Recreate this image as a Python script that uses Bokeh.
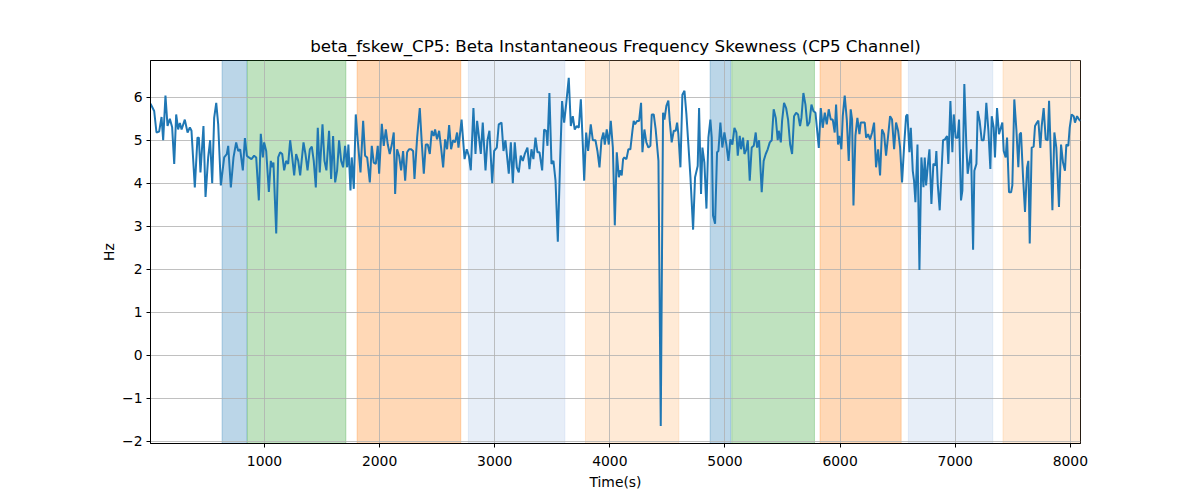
from bokeh.plotting import figure
from bokeh.models import BoxAnnotation, FixedTicker, Range1d
from bokeh.embed import file_html
from bokeh.resources import INLINE

title_text = "beta_fskew_CP5: Beta Instantaneous Frequency Skewness (CP5 Channel)"
x_label = "Time(s)"
y_label = "Hz"

time_s = [10, 42, 62, 85, 106, 120, 140, 158, 178, 198, 216, 233, 250, 265, 280, 308, 332, 352, 366, 395,
          418, 430, 444, 470, 488, 511, 528, 546, 563, 581, 598, 621, 650, 673, 685, 708, 731, 754, 772, 789,
          812, 830, 847, 864, 887, 910, 928, 951, 968, 986, 997, 1015, 1038, 1055, 1067, 1078, 1102, 1119, 1136, 1154,
          1171, 1188, 1206, 1223, 1241, 1258, 1275, 1293, 1310, 1339, 1356, 1374,
          1394, 1411, 1428, 1446, 1463, 1480, 1504, 1521, 1538, 1561, 1579, 1596, 1614, 1631, 1648, 1666, 1683, 1700,
          1718, 1729, 1747, 1758, 1776, 1793, 1810, 1834, 1857, 1874, 1892, 1915, 1932, 1949, 1967, 1984, 1996, 2019,
          2036, 2054, 2071, 2088, 2106, 2123, 2135, 2152, 2169, 2187, 2204, 2222, 2239, 2256, 2274, 2291, 2303, 2326,
          2349, 2366, 2384, 2401, 2418, 2436, 2453, 2470, 2482, 2499, 2517, 2534, 2552, 2569, 2586, 2604, 2621, 2638,
          2656, 2673, 2685, 2712, 2738,
          2757, 2775, 2792, 2815, 2833, 2847, 2862, 2879, 2896, 2920, 2937, 2954, 2978, 2995, 3018, 3035, 3059, 3076,
          3093, 3105, 3122, 3140, 3157, 3174, 3192, 3209, 3226, 3244, 3261, 3284, 3302, 3319, 3336, 3354, 3371, 3389,
          3412, 3429, 3447, 3458, 3475, 3493, 3510, 3528, 3548, 3568, 3585, 3603, 3620, 3643, 3661, 3678, 3695, 3713,
          3730, 3748, 3765, 3777, 3794, 3811, 3834, 3852, 3875, 3892, 3910, 3927, 3944, 3956, 3973, 3991, 4008, 4026,
          4043, 4060, 4078,
          4092, 4103, 4115, 4126, 4144, 4161, 4178, 4196, 4207, 4219, 4236, 4254, 4271, 4283, 4300, 4317, 4335, 4352,
          4364, 4381, 4398, 4422, 4442, 4462, 4474, 4491, 4508, 4520, 4537, 4555, 4572, 4584, 4595, 4613, 4630, 4648,
          4665, 4682, 4700, 4723, 4740, 4763, 4775, 4792, 4804, 4821, 4839, 4856, 4873, 4885, 4896, 4914, 4931, 4943,
          4960, 4977, 4995, 5012, 5030, 5047, 5064, 5082, 5099, 5111, 5128, 5140, 5157, 5169, 5186, 5198, 5215, 5232,
          5250, 5267, 5279, 5296, 5319, 5336, 5354, 5371, 5389, 5406, 5423, 5441, 5458,
          5467, 5485, 5496, 5513, 5531, 5548, 5566, 5583, 5600, 5618, 5635, 5652, 5664, 5681, 5699, 5716, 5733, 5751,
          5768, 5786, 5797, 5815, 5832, 5849, 5867, 5884, 5901, 5919, 5936, 5953, 5965, 5982, 5994, 6011, 6023, 6040,
          6058, 6075, 6092, 6104, 6116, 6133, 6150, 6168, 6179, 6197, 6214, 6226, 6243, 6260, 6278, 6295, 6312, 6330,
          6347, 6364, 6382, 6399, 6417, 6434, 6451, 6469, 6486, 6504, 6521, 6538, 6556, 6573, 6585, 6602, 6614, 6631,
          6642, 6654, 6672, 6689, 6706, 6724, 6735, 6747, 6764, 6776, 6793, 6810, 6828,
          6836, 6848, 6865, 6882, 6894, 6911, 6929, 6940, 6958, 6975, 6987, 7004, 7021, 7033, 7050, 7062, 7079, 7097,
          7108, 7126, 7137, 7155, 7166, 7184, 7195, 7212, 7230, 7247, 7259, 7270, 7288, 7305, 7317, 7334, 7345, 7363,
          7380, 7392, 7409, 7421, 7438, 7450, 7467, 7485, 7496, 7513, 7531, 7548, 7560, 7571, 7589, 7606, 7624, 7635,
          7647, 7664, 7681, 7693, 7710, 7722, 7739, 7751, 7768, 7786, 7803, 7815, 7826, 7844, 7861, 7878, 7901, 7919,
          7936, 7953, 7965, 7982, 7994, 8011, 8029, 8040, 8058, 8075, 8088]

skew_hz = [5.85, 5.68, 5.18, 5.2, 5.54, 5.0, 6.04, 5.33, 5.5, 5.3, 4.45, 5.6, 5.25, 5.4, 5.25, 5.48, 5.18, 5.3, 5.22, 3.9,
           5.06, 5.06, 4.25, 5.33, 3.68, 4.6, 5.0, 4.0, 5.52, 5.87, 5.37, 3.95, 4.6, 4.68, 4.87, 3.9, 4.6, 4.95, 4.75, 4.79,
           4.3, 5.05, 4.64, 4.6, 4.56, 4.64, 4.6, 3.6, 5.15, 4.6, 4.95, 4.75, 3.8, 4.52, 4.37, 4.48, 2.83, 4.6, 4.72, 4.68,
           4.3, 4.52, 4.45, 5.0, 4.6, 4.18, 4.68, 4.52, 4.18, 4.95, 4.68, 4.3,
           4.79, 4.85, 4.52, 3.9, 5.29, 4.25, 5.37, 4.52, 4.3, 5.22, 4.1, 5.1, 4.02, 4.3, 5.0, 4.52, 4.37, 4.87,
           4.37, 4.9, 3.83, 4.6, 3.87, 5.6, 5.0, 4.25, 5.45, 4.64, 4.6, 4.02, 4.87, 4.48, 4.45, 4.87, 4.22, 5.38,
           4.87, 5.25, 4.9, 4.68, 4.9, 5.18, 3.75, 4.79, 4.64, 4.3, 4.75, 4.06, 4.72, 4.79, 4.79, 4.75, 4.1, 5.06,
           5.75, 4.95, 4.22, 4.9, 4.9, 4.68, 5.22, 5.1, 5.25, 5.02, 5.22, 4.83, 4.37, 5.02, 4.79, 5.35, 4.79, 5.0,
           4.95, 5.18, 4.83, 5.48, 4.56,
           4.79, 4.64, 4.3, 5.75, 4.68, 5.45, 5.1, 4.68, 5.41, 4.3, 5.0, 5.22, 4.0, 4.75, 4.83, 5.37, 5.41, 4.75,
           5.0, 4.68, 4.22, 4.95, 4.0, 4.95, 4.37, 4.25, 4.64, 4.52, 4.68, 4.83, 4.33, 4.79, 4.56, 5.06, 4.72, 4.72,
           4.3, 5.25, 5.22, 4.87, 6.1, 4.45, 4.52, 4.06, 2.64, 4.52, 5.91, 5.41, 5.83, 6.45, 5.33, 5.56, 5.25, 5.33,
           5.29, 5.95, 4.9, 4.06, 5.18, 4.75, 5.37, 5.0, 5.0, 4.75, 4.37, 5.0, 5.18, 4.9, 5.25, 4.9, 5.45, 4.83,
           3.02, 4.72, 4.14,
           4.3, 4.18, 4.56, 4.6, 4.56, 4.79, 4.79, 5.22, 5.45, 5.37, 5.45, 5.45, 5.87, 4.72, 5.25, 4.95, 4.83, 4.87,
           5.6, 5.6, 5.25, 4.52, -1.65, 5.64, 5.48, 5.8, 5.92, 5.45, 4.95, 5.22, 5.22, 5.41, 5.14, 4.37, 6.06, 6.15,
           5.6, 4.9, 4.14, 2.92, 4.14, 4.4, 5.75, 3.75, 4.83, 4.48, 3.41, 5.06, 5.48, 5.06, 3.25, 3.06, 4.72, 4.75,
           5.41, 4.83, 5.18, 4.9, 4.52, 5.02, 4.9, 5.29, 5.18, 4.64, 5.1, 4.79, 5.06, 4.68, 4.79, 5.0, 4.06, 4.83,
           4.87, 5.18, 4.83, 5.0, 3.79, 4.52, 4.68, 4.79, 4.95, 5.0, 5.72, 5.52, 5.0,
           5.22, 4.95, 5.45, 5.87, 5.75, 5.48, 4.9, 4.68, 5.56, 5.64, 5.6, 5.33, 5.52, 6.1, 5.83, 5.33, 5.41, 5.83,
           5.68, 5.64, 5.33, 4.82, 5.75, 5.29, 5.64, 5.37, 5.72, 5.48, 5.48, 5.18, 5.83, 4.9, 5.1, 4.79, 5.56, 6.04,
           5.48, 4.52, 5.72, 5.48, 3.48, 5.1, 5.52, 5.14, 5.41, 5.41, 5.41, 5.06, 5.14, 5.02, 5.18, 5.41, 4.37, 4.79,
           4.18, 5.25, 5.14, 4.64, 5.1, 5.56, 5.48, 4.79, 5.41, 5.22, 4.83, 4.02, 4.87, 5.56, 5.6, 4.72, 5.29, 4.29,
           4.06, 3.56, 4.9, 1.98, 4.6, 3.91, 4.6, 3.95, 4.48, 4.79, 3.52, 4.45, 4.41,
           4.75, 3.98, 3.37, 4.33, 5.0, 5.02, 5.1, 4.45, 5.91, 4.72, 5.6, 5.06, 5.06, 5.48, 3.6, 3.83, 6.31, 4.83,
           4.22, 4.56, 4.79, 2.45, 4.29, 4.45, 5.68, 5.45, 5.0, 5.0, 5.33, 5.87, 5.22, 4.33, 5.56, 5.29, 4.6, 5.75,
           5.14, 5.25, 5.41, 4.75, 4.6, 5.06, 3.79, 3.79, 3.95, 5.95, 5.25, 4.37, 5.14, 5.18, 4.14, 3.33, 4.37, 4.52,
           2.6, 4.83, 4.85, 5.33, 5.41, 5.46, 4.82, 5.33, 5.75, 5.02, 5.0, 5.92, 5.0, 3.37, 5.18, 4.83, 3.45, 4.9,
           4.48, 4.29, 4.9, 4.87, 5.29, 5.6, 5.56, 5.41, 5.56, 5.48, 5.45]

span_starts = [632, 852, 1805, 2771, 3788, 4871, 5059, 5826, 6593, 7415]
span_ends = [847, 1707, 2705, 3609, 4599, 5050, 5777, 6530, 7326, 8120]
span_colors = ["#1f77b4", "#2ca02c", "#ff7f0e", "#aec7e8", "#ffbb78",
               "#1f77b4", "#2ca02c", "#ff7f0e", "#aec7e8", "#ffbb78"]

x_ticks = [1000, 2000, 3000, 4000, 5000, 6000, 7000, 8000]
y_ticks = [-2, -1, 0, 1, 2, 3, 4, 5, 6]
y_tick_labels = {-2: "\u22122", -1: "\u22121", 0: "0", 1: "1", 2: "2", 3: "3", 4: "4", 5: "5", 6: "6"}

FONT = "DejaVu Sans"

p = figure(width=1192, height=492, output_backend="svg", toolbar_location=None,
           x_range=Range1d(10, 8088), y_range=Range1d(-2.055, 6.855),
           min_border_left=150, min_border_right=112, min_border_top=60, min_border_bottom=48)

p.title.text = title_text
p.title.align = "center"
p.title.text_font = FONT
p.title.text_font_size = "16.7px"
p.title.text_font_style = "normal"
p.title.text_color = "black"
p.title.standoff = 9

for s, e, c in zip(span_starts, span_ends, span_colors):
    p.add_layout(BoxAnnotation(left=s, right=e, fill_color=c, fill_alpha=0.3,
                               line_color=c, line_alpha=0.3, line_width=1, level="image"))

p.line(time_s, skew_hz, line_color="#1f77b4", line_width=2)

p.xaxis.ticker = FixedTicker(ticks=x_ticks)
p.yaxis.ticker = FixedTicker(ticks=y_ticks)
p.yaxis.major_label_overrides = y_tick_labels
p.xaxis.axis_label = x_label
p.yaxis.axis_label = y_label

for ax in (p.xaxis, p.yaxis):
    ax.axis_label_text_font = FONT
    ax.axis_label_text_font_size = "13.9px"
    ax.axis_label_text_font_style = "normal"
    ax.axis_label_text_color = "black"
    ax.major_label_text_font = FONT
    ax.major_label_text_font_size = "13.9px"
    ax.major_label_text_color = "black"
    ax.axis_line_color = "black"
    ax.major_tick_line_color = "black"
    ax.major_tick_in = 0
    ax.major_tick_out = 4
    ax.minor_tick_line_color = None

p.xaxis.major_label_standoff = 8
p.yaxis.major_label_standoff = 4
p.xaxis.axis_label_standoff = 5
p.yaxis.axis_label_standoff = 2

p.grid.grid_line_color = "#b0b0b0"
p.grid.grid_line_width = 0.8
p.outline_line_color = "black"
p.outline_line_width = 1
p.outline_line_alpha = 1
p.background_fill_color = "white"
p.border_fill_color = "white"

open("out.html", "w").write(file_html(p, INLINE))
